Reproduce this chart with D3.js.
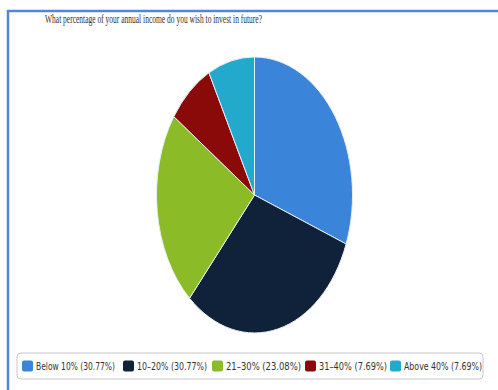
<!DOCTYPE html>
<html><head><meta charset="utf-8">
<script src="https://cdn.jsdelivr.net/npm/d3@7"></script>
<style>body{margin:0;background:#fff}svg{display:block}</style>
</head><body>
<script>
const title = "What percentage of your annual income do you wish to invest in future?";
const categories = ["Below 10%", "10-20%", "21-30%", "31-40%", "Above 40%"];
const percents = [30.77, 30.77, 23.08, 7.69, 7.69];
const colors = ["#3a84d9", "#0f2239", "#8bbb27", "#8a0a0a", "#22a9cc"];

const W = 498, H = 390;
const svg = d3.select("body").append("svg").attr("width", W).attr("height", H);

// frame
svg.append("line").attr("x1", 7).attr("x2", W).attr("y1", 11).attr("y2", 11)
  .attr("stroke", "#5187d6").attr("stroke-width", 2.5);
svg.append("line").attr("x1", 8).attr("x2", 8).attr("y1", 10).attr("y2", H)
  .attr("stroke", "#5187d6").attr("stroke-width", 2.5);

svg.append("text").attr("x", 45).attr("y", 23)
  .attr("font-family", "Liberation Serif, Times New Roman, serif")
  .attr("font-size", 11.5).attr("fill", "#333")
  .attr("textLength", 217).attr("lengthAdjust", "spacingAndGlyphs")
  .text(title);

// pie (elliptical)
const cx = 254.5, cy = 195, rx = 98, ry = 138;
const pie = d3.pie().sort(null).value(d => d)(percents);
const arc = d3.arc().innerRadius(0).outerRadius(1);
const g = svg.append("g").attr("transform", `translate(${cx},${cy}) scale(${rx},${ry})`);
g.selectAll("path").data(pie).join("path")
  .attr("d", arc)
  .attr("fill", (d, i) => colors[i])
  .attr("stroke", "#e8eef5").attr("stroke-width", 1)
  .attr("vector-effect", "non-scaling-stroke");

// legend
svg.append("rect").attr("x", 17).attr("y", 353).attr("width", 466).attr("height", 26)
  .attr("rx", 4).attr("fill", "#fff").attr("stroke", "#c8c8c8");
const itemX = [22, 123, 212, 305, 390];
const textW = [79, 70, 75, 68, 78];
const lg = svg.append("g").selectAll("g").data(categories).join("g")
  .attr("transform", (d, i) => `translate(${itemX[i]},366)`);
lg.append("rect").attr("x", 0).attr("y", -5.5).attr("width", 11).attr("height", 11)
  .attr("rx", 2).attr("fill", (d, i) => colors[i]);
lg.append("text").attr("x", 14).attr("y", 3.5)
  .attr("font-family", "DejaVu Sans Condensed, Liberation Sans Narrow, sans-serif")
  .attr("font-size", 10).attr("fill", "#333")
  .attr("textLength", (d, i) => textW[i]).attr("lengthAdjust", "spacingAndGlyphs")
  .text((d, i) => `${d.replace("-", "–")} (${percents[i].toFixed(2)}%)`);
</script>
</body></html>
